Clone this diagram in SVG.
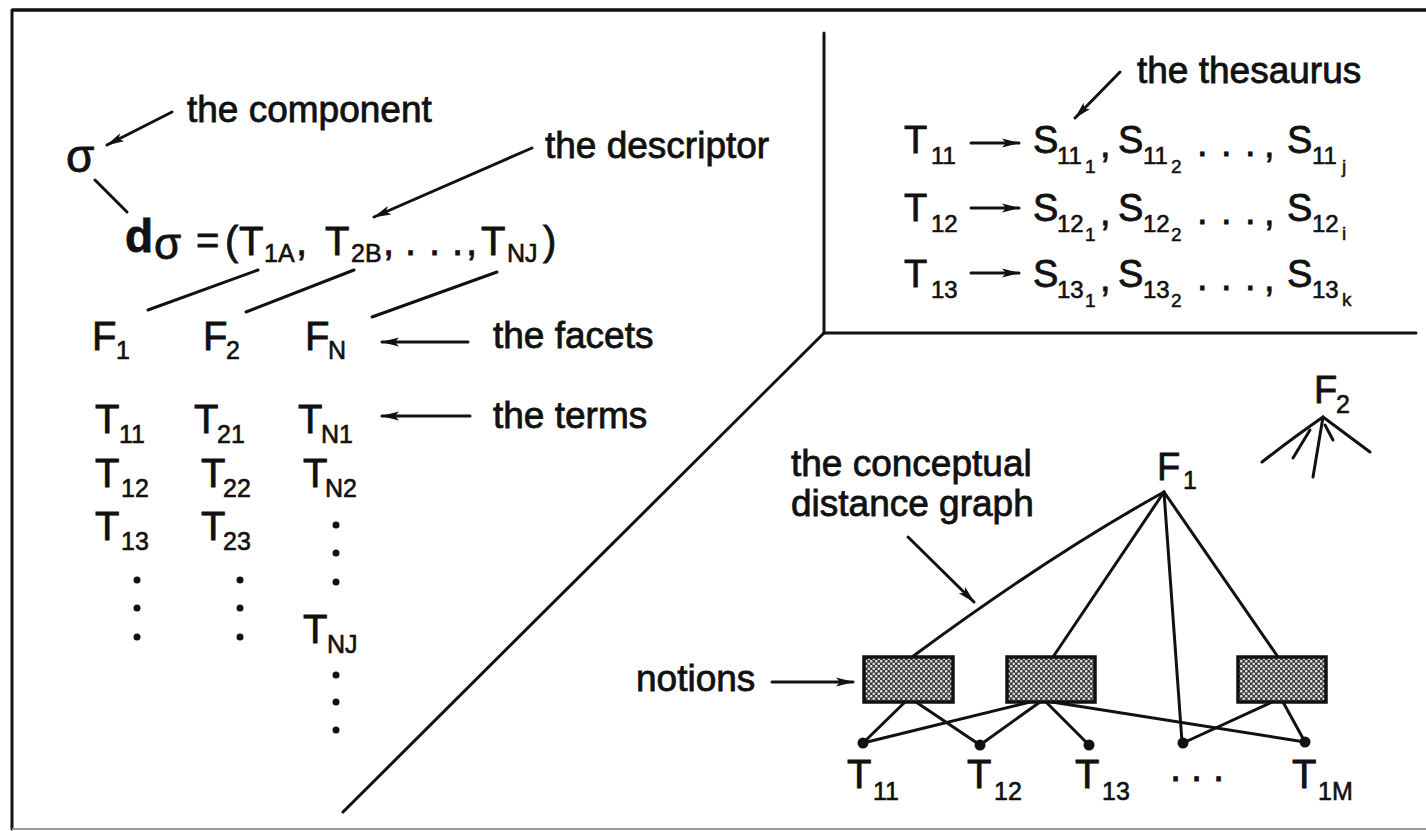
<svg xmlns="http://www.w3.org/2000/svg" width="1426" height="831" viewBox="0 0 1426 831">
<style>
text{font-family:"Liberation Sans",Arial,Helvetica,sans-serif;fill:#111;stroke:#111;stroke-width:0.8}
.lb{font-size:37px}
.m{font-size:40px}
.s{font-size:25px;stroke-width:0.6}
.mt{font-size:38px}
.st{font-size:24px;stroke-width:0.6}
.ss{font-size:19px;stroke-width:0.5}
.ln{stroke:#111;stroke-width:3;fill:none;stroke-linecap:round}
.ar{stroke:#111;stroke-width:3;fill:none;stroke-linecap:round;marker-end:url(#ah)}
.box{fill:url(#stip);stroke:#111;stroke-width:3.5}
.dot{fill:#111}
</style>
<defs>
<marker id="ah" markerUnits="userSpaceOnUse" markerWidth="20" markerHeight="12" refX="17" refY="5" orient="auto">
<path d="M0,0.5 L18,5 L0,9.5 L4,5 z" fill="#111"/>
</marker>
<pattern id="stip" width="5" height="5" patternUnits="userSpaceOnUse">
<rect width="5" height="5" fill="#3a3a3a"/>
<circle cx="1.25" cy="1.25" r="1.3" fill="#e0e0e0"/>
<circle cx="3.75" cy="3.75" r="1.3" fill="#e0e0e0"/>
</pattern>
</defs>
<rect width="1426" height="831" fill="#fff"/>

<g id="frame">
<line x1="12" y1="10" x2="1426" y2="10" stroke="#111" stroke-width="3.5"/>
<line x1="12" y1="10" x2="12" y2="829" class="ln"/>
<line x1="12" y1="829" x2="1426" y2="829" stroke="#999" stroke-width="2"/>
<line x1="824" y1="33" x2="824" y2="333" class="ln"/>
<line x1="824" y1="333" x2="1416" y2="333" class="ln"/>
<line x1="824" y1="333" x2="343" y2="812" class="ln"/>
</g>

<g id="connectors">
<line x1="172" y1="112" x2="107" y2="145" class="ar"/>
<line x1="95" y1="180" x2="127" y2="212" class="ln"/>
<line x1="532" y1="148" x2="374" y2="217" class="ar"/>
<line x1="258" y1="270" x2="148" y2="310" class="ln"/>
<line x1="354" y1="270" x2="246" y2="312" class="ln"/>
<line x1="497" y1="272" x2="372" y2="317" class="ln"/>
<line x1="468" y1="342" x2="382" y2="342" class="ar"/>
<line x1="470" y1="416" x2="382" y2="416" class="ar"/>
<line x1="1120" y1="72" x2="1075" y2="118" class="ar"/>
<line x1="971" y1="143" x2="1019" y2="143" class="ar"/>
<line x1="971" y1="208" x2="1019" y2="208" class="ar"/>
<line x1="971" y1="273" x2="1019" y2="273" class="ar"/>
<line x1="908" y1="537" x2="974" y2="602" class="ar"/>
<line x1="772" y1="682" x2="853" y2="682" class="ar"/>
<path d="M1164,492 Q1050,555 912,657" class="ln"/>
<line x1="1164" y1="492" x2="1053" y2="657" class="ln"/>
<line x1="1164" y1="492" x2="1182" y2="742" class="ln"/>
<line x1="1164" y1="492" x2="1278" y2="657" class="ln"/>
<line x1="905" y1="702" x2="863" y2="743" class="ln"/>
<line x1="916" y1="702" x2="980" y2="745" class="ln"/>
<line x1="1030" y1="702" x2="863" y2="743" class="ln"/>
<line x1="1040" y1="702" x2="980" y2="745" class="ln"/>
<line x1="1046" y1="702" x2="1089" y2="745" class="ln"/>
<line x1="1052" y1="702" x2="1305" y2="742" class="ln"/>
<line x1="1272" y1="702" x2="1183" y2="743" class="ln"/>
<line x1="1283" y1="702" x2="1305" y2="742" class="ln"/>
<path d="M1323,417 Q1290,440 1262,462" class="ln"/>
<line x1="1310" y1="430" x2="1293" y2="458" class="ln"/>
<line x1="1323" y1="417" x2="1313" y2="477" class="ln"/>
<line x1="1325" y1="425" x2="1333" y2="440" class="ln"/>
<line x1="1323" y1="417" x2="1370" y2="452" class="ln"/>
</g>

<g id="component-label"><text class="lb" x="187" y="122">the component</text></g>
<g id="sigma"><text x="66" y="172" font-size="46">σ</text></g>

<g id="descriptor">
<text class="m" y="255"><tspan x="125" y="252" font-size="46" font-weight="bold">d</tspan><tspan x="154" y="259" font-size="44">σ</tspan><tspan x="196" y="254">=</tspan><tspan x="225" y="255">(</tspan><tspan x="239" y="255">T</tspan><tspan x="264" y="262" font-size="25" stroke-width="0.6">1A</tspan><tspan x="296" y="255">,</tspan><tspan x="325" y="255">T</tspan><tspan x="351" y="262" font-size="25" stroke-width="0.6">2B</tspan><tspan x="383" y="255">,</tspan><tspan x="405" y="255">.</tspan><tspan x="429" y="255">.</tspan><tspan x="452" y="255">.</tspan><tspan x="466" y="255">,</tspan><tspan x="481" y="255">T</tspan><tspan x="507" y="262" font-size="25" stroke-width="0.6">NJ</tspan><tspan x="543" y="255">)</tspan></text>
</g>
<g id="descriptor-label"><text class="lb" x="545" y="158">the descriptor</text></g>

<g id="facets">
<text class="m" x="92" y="350">F<tspan class="s" x="116" y="359">1</tspan></text>
<text class="m" x="203" y="350">F<tspan class="s" x="226" y="359">2</tspan></text>
<text class="m" x="305" y="350">F<tspan class="s" x="328" y="359">N</tspan></text>
</g>
<g id="facets-label"><text class="lb" x="493" y="348">the facets</text></g>

<g id="terms">
<text class="m" x="95" y="433">T<tspan class="s" x="119" y="443">11</tspan></text>
<text class="m" x="95" y="487">T<tspan class="s" x="121" y="497">12</tspan></text>
<text class="m" x="95" y="540">T<tspan class="s" x="121" y="550">13</tspan></text>
<circle class="dot" cx="137" cy="580" r="3.5"/><circle class="dot" cx="137" cy="608" r="3.5"/><circle class="dot" cx="137" cy="637" r="3.5"/>
<text class="m" x="194" y="433">T<tspan class="s" x="217" y="443">21</tspan></text>
<text class="m" x="201" y="487">T<tspan class="s" x="223" y="497">22</tspan></text>
<text class="m" x="201" y="540">T<tspan class="s" x="223" y="550">23</tspan></text>
<circle class="dot" cx="240" cy="580" r="3.5"/><circle class="dot" cx="240" cy="608" r="3.5"/><circle class="dot" cx="240" cy="637" r="3.5"/>
<text class="m" x="298" y="433">T<tspan class="s" x="321" y="443">N1</tspan></text>
<text class="m" x="303" y="487">T<tspan class="s" x="325" y="497">N2</tspan></text>
<circle class="dot" cx="336" cy="525" r="3.5"/><circle class="dot" cx="336" cy="553" r="3.5"/><circle class="dot" cx="336" cy="582" r="3.5"/>
<text class="m" x="303" y="643">T<tspan class="s" x="327" y="653">NJ</tspan></text>
<circle class="dot" cx="336" cy="675" r="3.5"/><circle class="dot" cx="336" cy="702" r="3.5"/><circle class="dot" cx="336" cy="730" r="3.5"/>
</g>
<g id="terms-label"><text class="lb" x="493" y="428">the terms</text></g>

<g id="thesaurus-label"><text class="lb" x="1137" y="83">the thesaurus</text></g>
<g id="thesaurus">
<text class="mt" x="904" y="153">T<tspan class="st" x="931" y="164">11</tspan></text>
<text class="mt" x="1033" y="153">S<tspan class="st" x="1057" y="164">11</tspan><tspan class="ss" x="1085" y="173">1</tspan><tspan x="1100" y="157">,</tspan><tspan x="1118" y="153">S</tspan><tspan class="st" x="1143" y="164">11</tspan><tspan class="ss" x="1171" y="173">2</tspan><tspan x="1197" y="156">.</tspan><tspan x="1221" y="156">.</tspan><tspan x="1245" y="156">.</tspan><tspan x="1264" y="157">,</tspan><tspan x="1287" y="153">S</tspan><tspan class="st" x="1312" y="164">11</tspan><tspan class="ss" x="1342" y="173">j</tspan></text>

<text class="mt" x="904" y="221">T<tspan class="st" x="931" y="232">12</tspan></text>
<text class="mt" x="1033" y="221">S<tspan class="st" x="1057" y="232">12</tspan><tspan class="ss" x="1085" y="241">1</tspan><tspan x="1100" y="225">,</tspan><tspan x="1118" y="221">S</tspan><tspan class="st" x="1143" y="232">12</tspan><tspan class="ss" x="1171" y="241">2</tspan><tspan x="1197" y="224">.</tspan><tspan x="1221" y="224">.</tspan><tspan x="1245" y="224">.</tspan><tspan x="1264" y="225">,</tspan><tspan x="1287" y="221">S</tspan><tspan class="st" x="1312" y="232">12</tspan><tspan class="ss" x="1342" y="240">i</tspan></text>

<text class="mt" x="904" y="287">T<tspan class="st" x="931" y="298">13</tspan></text>
<text class="mt" x="1033" y="287">S<tspan class="st" x="1057" y="298">13</tspan><tspan class="ss" x="1085" y="307">1</tspan><tspan x="1100" y="291">,</tspan><tspan x="1118" y="287">S</tspan><tspan class="st" x="1143" y="298">13</tspan><tspan class="ss" x="1171" y="307">2</tspan><tspan x="1197" y="290">.</tspan><tspan x="1221" y="290">.</tspan><tspan x="1245" y="290">.</tspan><tspan x="1264" y="291">,</tspan><tspan x="1287" y="287">S</tspan><tspan class="st" x="1312" y="298">13</tspan><tspan class="ss" x="1342" y="306">k</tspan></text>
</g>

<g id="graph-label"><text class="lb" x="791" y="476">the conceptual</text><text class="lb" x="791" y="516">distance graph</text></g>
<g id="notions-label"><text class="lb" x="636" y="691">notions</text></g>

<g id="f1"><text class="mt" x="1157" y="480">F<tspan class="s" x="1183" y="489">1</tspan></text></g>
<g id="f2"><text class="mt" x="1314" y="403">F<tspan class="s" x="1336" y="413">2</tspan></text></g>

<g id="notion1"><rect class="box" x="864" y="657" width="89" height="45"/></g>
<g id="notion2"><rect class="box" x="1007" y="657" width="88" height="45"/></g>
<g id="notion3"><rect class="box" x="1238" y="657" width="88" height="45"/></g>

<g id="t11n"><circle class="dot" cx="863" cy="743" r="5.5"/><text class="m" x="847" y="788">T<tspan class="s" x="873" y="800">11</tspan></text></g>
<g id="t12n"><circle class="dot" cx="980" cy="745" r="5.5"/><text class="m" x="967" y="788">T<tspan class="s" x="994" y="800">12</tspan></text></g>
<g id="t13n"><circle class="dot" cx="1089" cy="745" r="5.5"/><text class="m" x="1075" y="788">T<tspan class="s" x="1102" y="800">13</tspan></text></g>
<g id="tdots"><circle class="dot" cx="1183" cy="743" r="5.5"/><text class="m" x="1170" y="781">.<tspan x="1191">.</tspan><tspan x="1213">.</tspan></text></g>
<g id="t1mn"><circle class="dot" cx="1305" cy="742" r="5.5"/><text class="m" x="1292" y="788">T<tspan class="s" x="1318" y="800">1M</tspan></text></g>
</svg>
